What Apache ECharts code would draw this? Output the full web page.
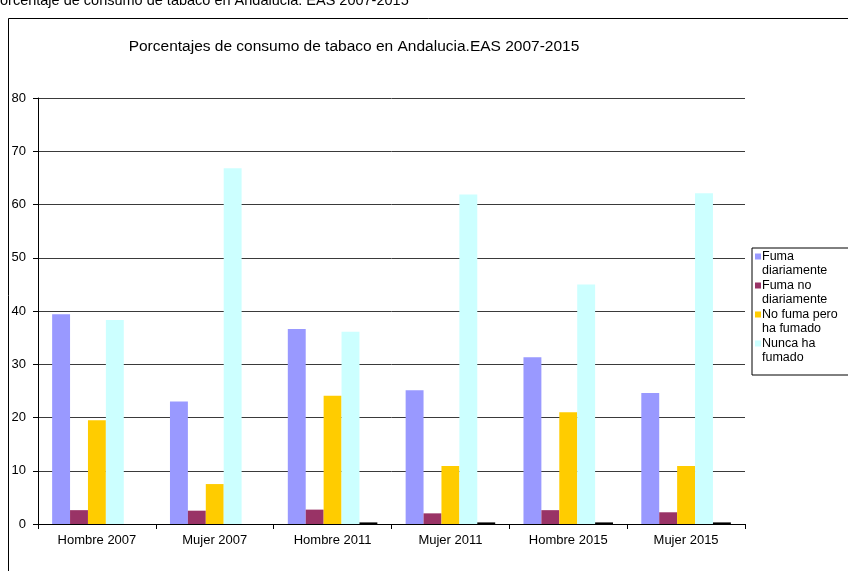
<!DOCTYPE html>
<html>
<head>
<meta charset="utf-8">
<script src="https://cdn.jsdelivr.net/npm/echarts@6/dist/echarts.min.js"></script>
<style>
    html, body { margin: 0; padding: 0; background: #fff; }
    #chart { width: 848px; height: 571px; }
</style>
</head>
<body>
<div id="chart"></div>
<script>
    // datos
    var categorias = ['Hombre 2007', 'Mujer 2007', 'Hombre 2011', 'Mujer 2011', 'Hombre 2015', 'Mujer 2015']
    var fumaDiario = [39.4, 23.0, 36.6, 25.1, 31.3, 24.6]
    var fumaNoDiario = [2.6, 2.5, 2.7, 2.0, 2.6, 2.2]
    var exFumador = [19.5, 7.5, 24.1, 10.9, 21.0, 10.9]
    var nuncaFumado = [38.3, 66.8, 36.1, 61.9, 45.0, 62.1]
    var nsnc = [null, null, 0.3, 0.3, 0.3, 0.3]
    var ticksY = [0, 10, 20, 30, 40, 50, 60, 70, 80]

    var fuente = 'Arial, "Liberation Sans", sans-serif'
    var etiquetas = {
        'Fuma diariamente': 'Fuma\ndiariamente',
        'Fuma no diariamente': 'Fuma no\ndiariamente',
        'No fuma pero ha fumado': 'No fuma pero\nha fumado',
        'Nunca ha fumado': 'Nunca ha\nfumado'
    }
    // cuadrado arriba, puntos minimos para alargar la caja del icono
    var iconoLeyenda = 'path://M0,0h0.01v0.01h-0.01z M0,4.5h6v6h-6z M0,29h0.01v0.01h-0.01z'

    var chart = echarts.init(document.getElementById('chart'), null, {renderer: 'canvas'})

    function serie (name, data, color) {
        return {
            name: name,
            type: 'bar',
            data: data,
            barGap: '0%',
            barCategoryGap: '24%',
            itemStyle: {color: color},
            emphasis: {disabled: true}
        }
    }

    chart.setOption({
        animation: false,
        textStyle: {fontFamily: fuente},
        graphic: [
            {
                type: 'text',
                left: 0,
                top: -7,
                style: {
                    text: 'orcentaje de consumo de tabaco en Andalucia. EAS 2007-2015',
                    font: '14.5px ' + fuente,
                    fill: '#000'
                }
            },
            {
                type: 'rect',
                shape: {x: 8.5, y: 18.5, width: 900, height: 600},
                style: {fill: 'none', stroke: '#000', lineWidth: 1},
                silent: true
            }
        ],
        title: {
            text: 'Porcentajes de consumo de tabaco en Andalucia.EAS 2007-2015',
            left: 349,
            textAlign: 'center',
            top: 34,
            textStyle: {fontSize: 15.5, fontWeight: 'normal', color: '#000', fontFamily: fuente}
        },
        legend: {
            data: ['Fuma diariamente', 'Fuma no diariamente', 'No fuma pero ha fumado', 'Nunca ha fumado'],
            orient: 'vertical',
            left: 752,
            top: 248,
            padding: [1, 40, 10, 3],
            itemGap: 0,
            itemWidth: 6,
            itemHeight: 29,
            borderColor: '#000',
            borderWidth: 1,
            icon: iconoLeyenda,
            formatter: function (name) { return etiquetas[name] },
            textStyle: {fontSize: 12.5, color: '#000', fontFamily: fuente, lineHeight: 14.5, padding: [0, 0, 0, -4]}
        },
        grid: {left: 38, right: 103, top: 98, bottom: 47},
        xAxis: {
            type: 'category',
            data: categorias,
            axisLine: {lineStyle: {color: '#000', width: 1}},
            axisTick: {show: true, length: 5, alignWithLabel: false, lineStyle: {color: '#000'}},
            axisLabel: {fontSize: 13, color: '#000', margin: 10, fontFamily: fuente}
        },
        yAxis: {
            type: 'value',
            min: ticksY[0],
            max: ticksY[ticksY.length - 1],
            interval: 10,
            axisLine: {show: true, lineStyle: {color: '#000', width: 1}},
            axisTick: {show: true, length: 5, lineStyle: {color: '#000'}},
            axisLabel: {fontSize: 13, color: '#000', margin: 12, fontFamily: fuente},
            splitLine: {show: true, lineStyle: {color: '#3a3a3a', width: 1}}
        },
        series: [
            serie('Fuma diariamente', fumaDiario, '#9999ff'),
            serie('Fuma no diariamente', fumaNoDiario, '#993366'),
            serie('No fuma pero ha fumado', exFumador, '#ffcc00'),
            serie('Nunca ha fumado', nuncaFumado, '#ccffff'),
            serie('NS/NC', nsnc, '#000000')
        ]
    })
</script>
</body>
</html>
